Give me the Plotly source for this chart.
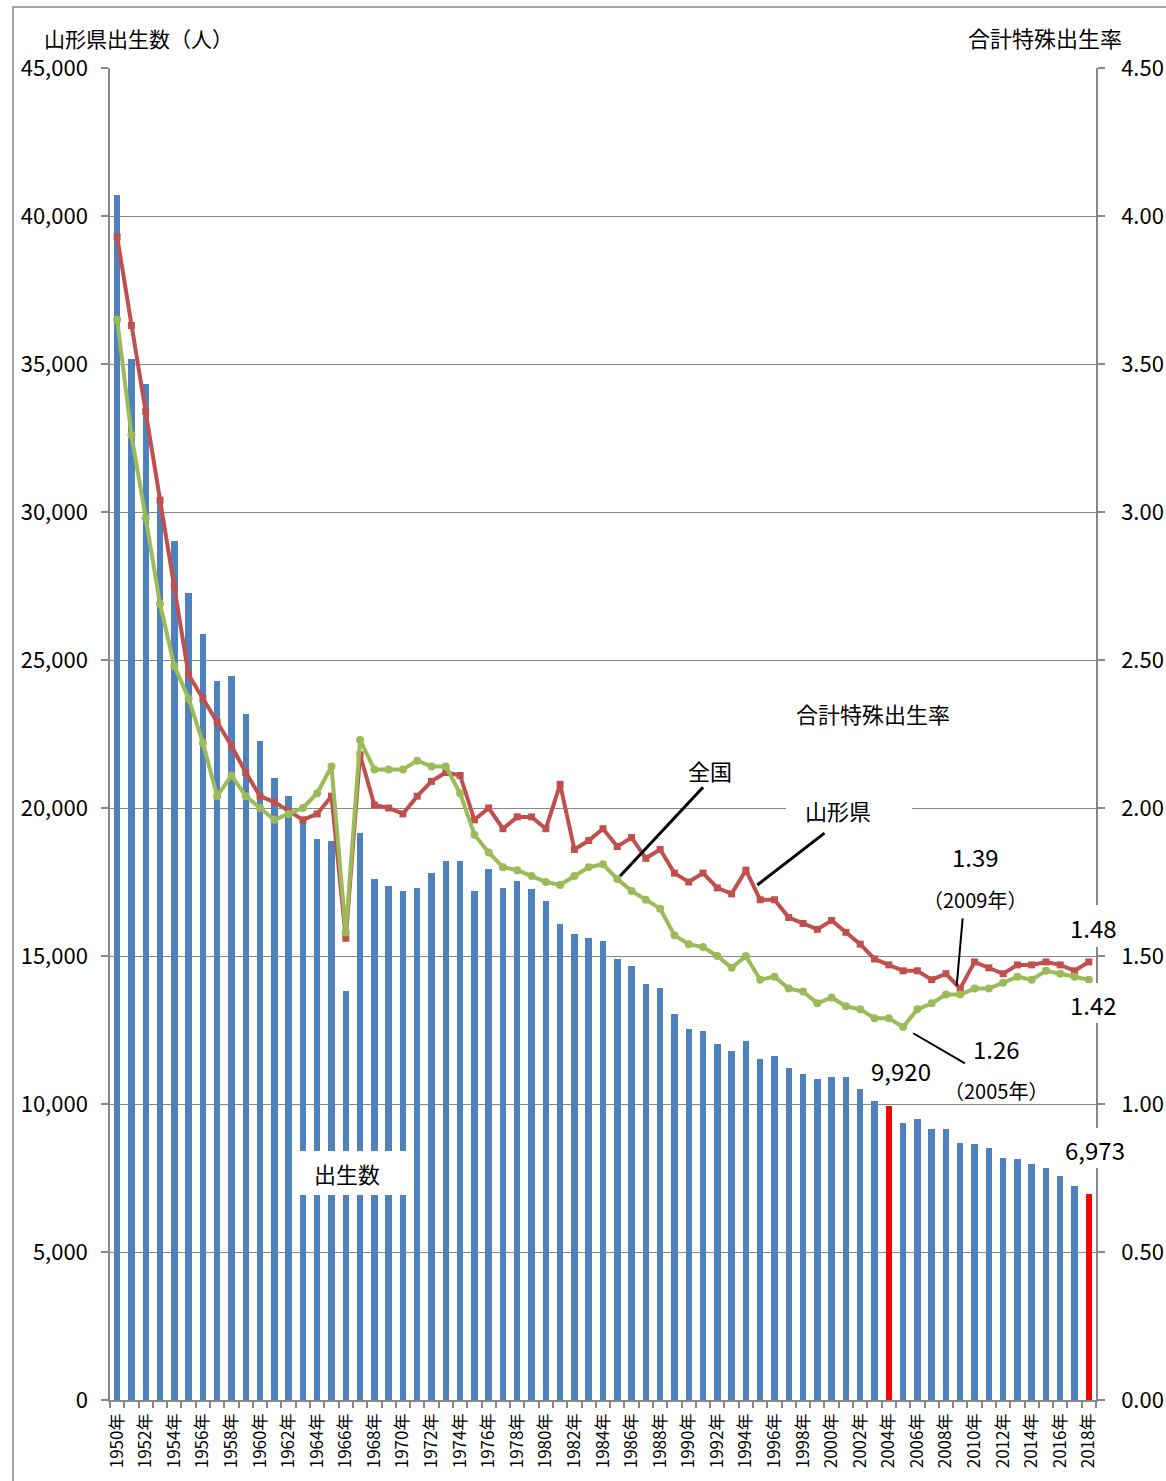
import plotly.graph_objects as go

# 山形県の出生数と合計特殊出生率（1950〜2018年）
years = list(range(1950, 2019))

births = [
    40700, 35170, 34320, 30440, 29020, 27270, 25880, 24290, 24460, 23180,
    22260, 21020, 20400, 19490, 18950, 18890, 13820, 19170, 17600, 17360,
    17200, 17300, 17810, 18210, 18210, 17200, 17940, 17300, 17530, 17260,
    16860, 16080, 15740, 15620, 15510, 14900, 14660, 14050, 13930, 13040,
    12530, 12470, 12030, 11790, 12130, 11520, 11620, 11220, 11010, 10840,
    10910, 10910, 10500, 10110, 9920, 9370, 9490, 9150, 9150, 8690,
    8640, 8520, 8190, 8130, 7960, 7850, 7570, 7230, 6973,
]

tfr_yamagata = [
    3.93, 3.63, 3.34, 3.04, 2.75, 2.45, 2.37, 2.29, 2.21, 2.12,
    2.04, 2.02, 1.99, 1.96, 1.98, 2.04, 1.56, 2.18, 2.01, 2.00,
    1.98, 2.04, 2.09, 2.12, 2.11, 1.96, 2.00, 1.93, 1.97, 1.97,
    1.93, 2.08, 1.86, 1.89, 1.93, 1.87, 1.90, 1.83, 1.86, 1.78,
    1.75, 1.78, 1.73, 1.71, 1.79, 1.69, 1.69, 1.63, 1.61, 1.59,
    1.62, 1.58, 1.54, 1.49, 1.47, 1.45, 1.45, 1.42, 1.44, 1.39,
    1.48, 1.46, 1.44, 1.47, 1.47, 1.48, 1.47, 1.45, 1.48,
]

tfr_japan = [
    3.65, 3.26, 2.98, 2.69, 2.48, 2.37, 2.22, 2.04, 2.11, 2.04,
    2.00, 1.96, 1.98, 2.00, 2.05, 2.14, 1.58, 2.23, 2.13, 2.13,
    2.13, 2.16, 2.14, 2.14, 2.05, 1.91, 1.85, 1.80, 1.79, 1.77,
    1.75, 1.74, 1.77, 1.80, 1.81, 1.76, 1.72, 1.69, 1.66, 1.57,
    1.54, 1.53, 1.50, 1.46, 1.50, 1.42, 1.43, 1.39, 1.38, 1.34,
    1.36, 1.33, 1.32, 1.29, 1.29, 1.26, 1.32, 1.34, 1.37, 1.37,
    1.39, 1.39, 1.41, 1.43, 1.42, 1.45, 1.44, 1.43, 1.42,
]

highlight_years = [2004, 2018]
tick_years = list(range(1950, 2019, 2))
tick_text = [f"{y}年" for y in tick_years]

FONT = "Noto Sans CJK JP"
GRID = "#888888"
BLUE = "#4F81BD"
RED_BAR = "#FF0000"
RED_LINE = "#C0504D"
GREEN = "#9BBB59"

W, H = 1166, 1481
L, R, T, B = 110, 70, 68, 81
PW, PH = W - L - R, H - T - B


def px(x):
    return (x - L) / PW


def py(y):
    return (H - B - y) / PH


bar_colors = [RED_BAR if y in highlight_years else BLUE for y in years]

fig = go.Figure()
fig.add_trace(go.Bar(
    x=years, y=births, marker_color=bar_colors, marker_line_width=0,
    width=0.45, yaxis="y", name="出生数",
))
fig.add_trace(go.Scatter(
    x=years, y=tfr_yamagata, yaxis="y2", mode="lines+markers",
    line=dict(color=RED_LINE, width=4),
    marker=dict(symbol="square", size=7, color=RED_LINE),
    name="山形県",
))
fig.add_trace(go.Scatter(
    x=years, y=tfr_japan, yaxis="y2", mode="lines+markers",
    line=dict(color=GREEN, width=4),
    marker=dict(symbol="circle", size=8, color=GREEN),
    name="全国",
))

tick_font = dict(family=FONT, size=22, color="#000000")

fig.update_layout(
    width=W, height=H,
    margin=dict(l=L, r=R, t=T, b=B, pad=0, autoexpand=False),
    paper_bgcolor="white", plot_bgcolor="white",
    showlegend=False,
    font=dict(family=FONT, color="#000000"),
    bargap=0,
    xaxis=dict(
        range=[1949.5, 2018.5], automargin=False,
        tickmode="array", tickvals=tick_years, ticktext=tick_text,
        tickangle=-90, ticks="", tickfont=dict(family=FONT, size=17),
        showgrid=False, zeroline=False,
        showline=True, linecolor=GRID, linewidth=1.5,
        minor=dict(ticks="outside", tick0=1949.5, dtick=1, ticklen=6,
                   tickcolor=GRID, tickwidth=1.5, showgrid=False),
        ticklabelstandoff=5,
    ),
    yaxis=dict(
        range=[0, 45000], dtick=5000, tickformat=",", automargin=False,
        ticks="outside", ticklen=7, tickcolor=GRID, tickwidth=1.5,
        showgrid=True, gridcolor=GRID, gridwidth=1.3,
        showline=True, linecolor=GRID, linewidth=1.5,
        zeroline=False, tickfont=tick_font, ticklabelstandoff=9,
    ),
    yaxis2=dict(
        range=[0, 4.5], dtick=0.5, tickformat=".2f", automargin=False,
        overlaying="y", side="right",
        ticks="outside", ticklen=7, tickcolor=GRID, tickwidth=1.5,
        showgrid=False, showline=True, linecolor=GRID, linewidth=1.5,
        zeroline=False, tickfont=tick_font, ticklabelstandoff=12,
    ),
)

shapes = [
    # outer frame
    dict(type="rect", xref="paper", yref="paper",
         x0=px(13), x1=px(1172), y0=py(1490), y1=py(7),
         line=dict(color=GRID, width=1.5), fillcolor="rgba(0,0,0,0)",
         layer="below"),
    # masks behind labels
    dict(type="rect", xref="paper", yref="paper",
         x0=px(296), x1=px(413), y0=py(1195), y1=py(1151),
         fillcolor="white", line=dict(width=0), layer="above"),
    dict(type="rect", xref="paper", yref="paper",
         x0=px(786), x1=px(912), y0=py(830), y1=py(790),
         fillcolor="white", line=dict(width=0), layer="above"),
    dict(type="rect", xref="paper", yref="paper",
         x0=px(1066), x1=px(1122), y0=py(947), y1=py(905),
         fillcolor="white", line=dict(width=0), layer="above"),
    dict(type="rect", xref="paper", yref="paper",
         x0=px(1066), x1=px(1122), y0=py(1023), y1=py(983),
         fillcolor="white", line=dict(width=0), layer="above"),
    dict(type="rect", xref="paper", yref="paper",
         x0=px(1060), x1=px(1130), y0=py(1168), y1=py(1128),
         fillcolor="white", line=dict(width=0), layer="above"),
    # leader lines
    dict(type="line", xref="x", yref="y2", x0=1985.2, y0=1.77, x1=1991.0, y1=2.07,
         line=dict(color="black", width=3), layer="above"),
    dict(type="line", xref="x", yref="y2", x0=1994.8, y0=1.74, x1=1999.5, y1=1.915,
         line=dict(color="black", width=3), layer="above"),
    dict(type="line", xref="x", yref="y2", x0=2008.75, y0=1.40, x1=2009.17, y1=1.627,
         line=dict(color="black", width=2), layer="above"),
    dict(type="line", xref="x", yref="y2", x0=2005.71, y0=1.239, x1=2009.33, y1=1.1375,
         line=dict(color="black", width=2), layer="above"),
]
fig.update_layout(shapes=shapes)


def paper_text(text, x, y, size=22):
    return dict(text=text, xref="paper", yref="paper", x=px(x), y=py(y),
                xanchor="center", yanchor="middle", showarrow=False,
                font=dict(family=FONT, size=size, color="black"))


def data_text(text, x, y, yref, xshift, yshift, size=24):
    return dict(text=text, xref="x", yref=yref, x=x, y=y,
                xshift=xshift, yshift=yshift,
                xanchor="center", yanchor="middle", showarrow=False,
                font=dict(family=FONT, size=size, color="black"))


i2004 = years.index(2004)
i2005 = years.index(2005)
i2009 = years.index(2009)
i2018 = years.index(2018)

annotations = [
    paper_text("山形県出生数（人）", 138, 38, 21),
    paper_text("合計特殊出生率", 1045, 37, 22),
    paper_text("合計特殊出生率", 873, 713),
    paper_text("全国", 710, 770),
    paper_text("山形県", 838, 810),
    paper_text("出生数", 347, 1173),
    data_text(f"{births[i2004]:,}", 2004, births[i2004], "y", 12, 36),
    data_text(f"{births[i2018]:,}", 2018, births[i2018], "y", 6, 44),
    data_text(f"{tfr_yamagata[i2009]:.2f}", 2009, tfr_yamagata[i2009], "y2", 15, 132),
    data_text("（2009年）", 2009, tfr_yamagata[i2009], "y2", 15, 89, 20),
    data_text(f"{tfr_japan[i2005]:.2f}", 2005, tfr_japan[i2005], "y2", 93, -21),
    data_text("（2005年）", 2005, tfr_japan[i2005], "y2", 93, -63, 20),
    data_text(f"{tfr_yamagata[i2018]:.2f}", 2018, tfr_yamagata[i2018], "y2", 5, 34),
    data_text(f"{tfr_japan[i2018]:.2f}", 2018, tfr_japan[i2018], "y2", 5, -25),
]
fig.update_layout(annotations=annotations)

fig.write_html("out.html")
